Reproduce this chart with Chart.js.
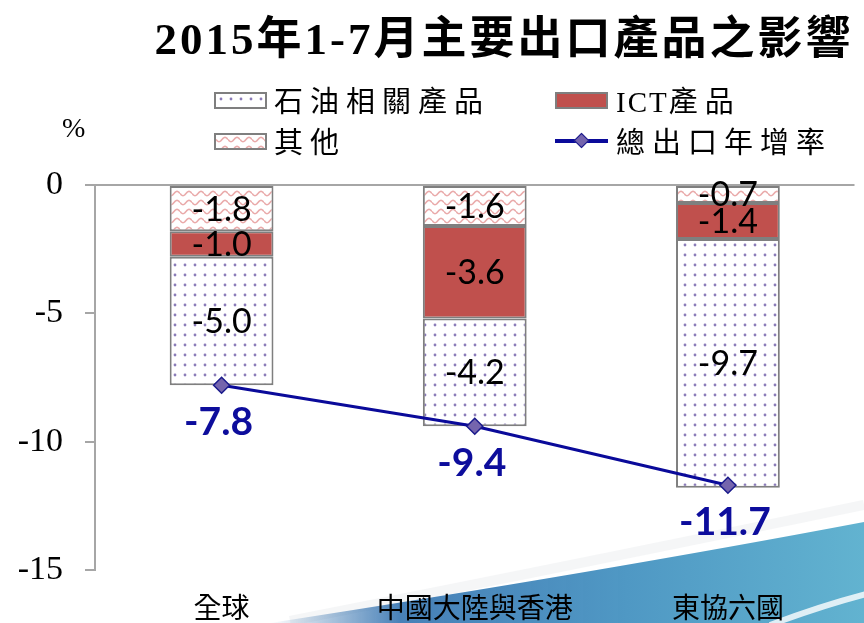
<!DOCTYPE html>
<html>
<head>
<meta charset="utf-8">
<script src="https://cdn.jsdelivr.net/npm/chart.js@4.4.0/dist/chart.umd.min.js"></script>
<style>
    body { margin: 0; background: #fff; }
    #wrap { position: relative; width: 864px; height: 623px; overflow: hidden; }
    #chart { position: absolute; left: 0; top: 0; }
    .title {
        position: absolute; left: 0; width: 1008px; top: 2px; text-align: center;
        font: bold 45px "Liberation Serif", "Noto Sans CJK TC", serif; letter-spacing: 3px; color: #000;
    }
    .leg { position: absolute; font: 29px "Noto Sans CJK TC", sans-serif; letter-spacing: 7px; color: #000; line-height: 34px; }
    .sw { position: absolute; width: 49px; height: 13px; border: 2px solid #7f7f7f; }
    .pct { position: absolute; left: 62px; top: 112px; font: 28px "Liberation Serif", serif; }
</style>
</head>
<body>
<div id="wrap">
    <canvas id="chart" width="864" height="623"></canvas>
    <div class="title">2015年1-7月主要出口產品之影響</div>
    <div class="pct">%</div>
    <div class="sw" id="swOil" style="left:214px; top:92px;"></div>
    <div class="leg" style="left:274px; top:82px;">石油相關產品</div>
    <div class="sw" id="swIct" style="left:555px; top:92px; background:#c0504d;"></div>
    <div class="leg" style="left:616px; top:82px;"><span style="font-family:'Liberation Serif'; letter-spacing:2px;">ICT</span>產品</div>
    <div class="sw" id="swOther" style="left:214px; top:133px;"></div>
    <div class="leg" style="left:274px; top:123px;">其他</div>
    <div style="position:absolute; left:555px; top:139px; width:53px; height:4px; background:#0a0a9a;"></div>
    <div style="position:absolute; left:576px; top:135px; width:9px; height:9px; background:#7565ad; border:1.5px solid #1a1a8c; transform:rotate(45deg);"></div>
    <div class="leg" style="left:616px; top:123px;">總出口年增率</div>
</div>
<script>
const categories = ['全球', '中國大陸與香港', '東協六國'];
const otherValues = [-1.8, -1.6, -0.7];
const ictValues = [-1.0, -3.6, -1.4];
const oilValues = [-5.0, -4.2, -9.7];
const totalValues = [-7.8, -9.4, -11.7];
const yTicks = [0, -5, -10, -15];

// dotted fill for 石油相關產品
function dotPattern() {
    const c = document.createElement('canvas');
    c.width = 10; c.height = 10;
    const x = c.getContext('2d');
    x.fillStyle = '#fff';
    x.fillRect(0, 0, 10, 10);
    x.fillStyle = 'rgba(100,80,160,0.75)';
    x.beginPath();
    x.arc(5, 5, 1.4, 0, Math.PI * 2);
    x.fill();
    return c;
}

// wavy fill for 其他
function wavePattern() {
    const c = document.createElement('canvas');
    c.width = 12; c.height = 9;
    const x = c.getContext('2d');
    x.fillStyle = '#fff';
    x.fillRect(0, 0, 12, 9);
    x.strokeStyle = 'rgba(225,140,140,0.75)';
    x.lineWidth = 1.5;
    x.beginPath();
    for (let i = 0; i <= 12; i++) {
        const yy = 4.5 + 2.2 * Math.sin(i / 12 * Math.PI * 2);
        if (i === 0) x.moveTo(i, yy); else x.lineTo(i, yy);
    }
    x.stroke();
    return c;
}

const dotCanvas = dotPattern();
const waveCanvas = wavePattern();
const ctx = document.getElementById('chart').getContext('2d');
const dotFill = ctx.createPattern(dotCanvas, 'repeat');
const waveFill = ctx.createPattern(waveCanvas, 'repeat');

document.getElementById('swOil').style.background = `url(${dotCanvas.toDataURL()})`;
document.getElementById('swOther').style.background = `url(${waveCanvas.toDataURL()})`;

const backdrop = {
    id: 'backdrop',
    beforeDraw(chart) {
        const { ctx, width, height } = chart;
        ctx.save();
        ctx.beginPath();
        ctx.moveTo(290, height - 2);
        ctx.quadraticCurveTo(600, 560, width, 505);
        ctx.strokeStyle = 'rgba(215,218,222,0.25)';
        ctx.lineWidth = 10;
        ctx.stroke();

        const g = ctx.createLinearGradient(270, 0, width, 0);
        g.addColorStop(0, 'rgba(60,118,176,0)');
        g.addColorStop(0.22, 'rgba(62,122,180,0.95)');
        g.addColorStop(0.6, '#4f98c4');
        g.addColorStop(1, '#62b3d0');
        ctx.beginPath();
        ctx.moveTo(270, height);
        ctx.quadraticCurveTo(600, 572, width, 522);
        ctx.lineTo(width, height);
        ctx.closePath();
        ctx.fillStyle = g;
        ctx.fill();

        ctx.beginPath();
        ctx.moveTo(770, height + 2);
        ctx.quadraticCurveTo(820, 606, width + 2, 594);
        ctx.strokeStyle = 'rgba(255,255,255,0.8)';
        ctx.lineWidth = 6;
        ctx.stroke();
        ctx.restore();
    }
};

const valueLabels = {
    id: 'valueLabels',
    afterDatasetsDraw(chart) {
        const { ctx } = chart;
        ctx.save();
        ctx.textAlign = 'center';
        ctx.textBaseline = 'middle';
        chart.data.datasets.forEach((ds, i) => {
            const meta = chart.getDatasetMeta(i);
            meta.data.forEach((el, j) => {
                const v = ds.data[j];
                if (ds.type === 'line') {
                    ctx.font = 'bold 39px Lato, sans-serif';
                    ctx.fillStyle = '#0d0d9c';
                    ctx.fillText(v.toFixed(1), el.x - 3, el.y + 37);
                } else {
                    const p = el.getProps(['x', 'y', 'base'], true);
                    ctx.font = '34px Lato, sans-serif';
                    ctx.fillStyle = '#000';
                    ctx.fillText(v.toFixed(1), p.x, (p.y + p.base) / 2 + 1);
                }
            });
        });
        ctx.restore();
    }
};

const barCommon = {
    type: 'bar',
    stack: 'parts',
    order: 1,
    borderColor: '#7f7f7f',
    borderWidth: 2,
    borderSkipped: false,
    categoryPercentage: 1,
    barPercentage: 0.41
};

new Chart(ctx, {
    data: {
        labels: categories,
        datasets: [
            { ...barCommon, label: '其他', data: otherValues, backgroundColor: waveFill },
            { ...barCommon, label: 'ICT產品', data: ictValues, backgroundColor: '#c0504d' },
            { ...barCommon, label: '石油相關產品', data: oilValues, backgroundColor: dotFill },
            {
                type: 'line',
                label: '總出口年增率',
                stack: 'total',
                order: 0,
                data: totalValues,
                borderColor: '#0a0a9a',
                borderWidth: 3,
                pointStyle: 'rectRot',
                pointRadius: 8,
                pointBackgroundColor: '#7565ad',
                pointBorderColor: '#1a1a8c',
                pointBorderWidth: 1.5,
                tension: 0
            }
        ]
    },
    options: {
        responsive: false,
        animation: false,
        layout: { padding: { top: 185, right: 4, left: 0, bottom: 0 } },
        plugins: {
            legend: { display: false },
            title: { display: false },
            tooltip: { enabled: false }
        },
        scales: {
            x: {
                stacked: true,
                grid: { display: false },
                border: { display: false },
                ticks: {
                    color: '#000',
                    padding: 13,
                    font: { size: 28, family: '"Noto Sans CJK TC", sans-serif' }
                },
                afterFit(scale) { scale.height = 53; }
            },
            y: {
                stacked: true,
                min: -15,
                max: 0,
                afterBuildTicks(scale) { scale.ticks = yTicks.map(v => ({ value: v })); },
                grid: {
                    color: c => (c.tick && c.tick.value === 0 ? '#a6a6a6' : 'rgba(0,0,0,0)'),
                    tickColor: '#a6a6a6',
                    tickLength: 10,
                    lineWidth: 2
                },
                border: { display: true, color: '#a6a6a6', width: 2 },
                ticks: {
                    color: '#000',
                    padding: 22,
                    font: { size: 34, family: '"Liberation Serif", serif' }
                },
                afterFit(scale) { scale.width = 95; }
            }
        }
    },
    plugins: [backdrop, valueLabels]
});
</script>
</body>
</html>
